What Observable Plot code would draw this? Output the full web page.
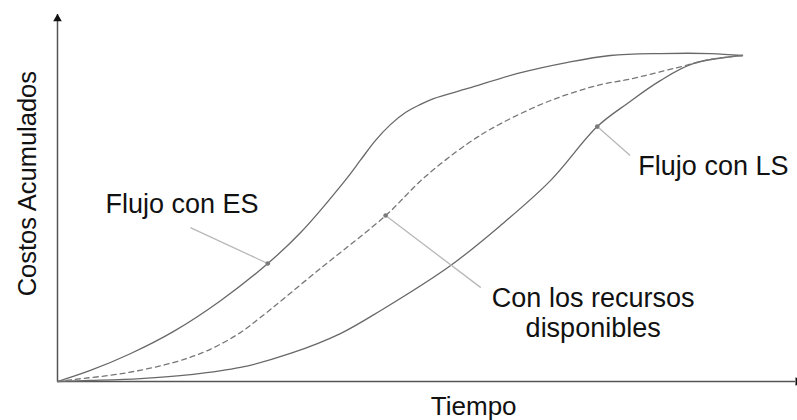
<!DOCTYPE html>
<html>
<head>
<meta charset="utf-8">
<script src="https://cdn.jsdelivr.net/npm/d3@7"></script>
<script src="https://cdn.jsdelivr.net/npm/@observablehq/plot@0.6"></script>
<style>
  html, body { margin: 0; padding: 0; background: #fff; overflow: hidden; }
  #chart svg { display: block; }
</style>
</head>
<body>
<div id="chart"></div>
<script>
// ---- Data (Tiempo 0..100, Costos acumulados 0..100) ----
const tiempoES = [0, 4.8, 10.7, 16.9, 23.8, 30.7, 35.5, 42.0, 44.2, 46.4, 48.6, 50.8, 53.0, 54.9, 59.9, 67.2, 74.5, 80.7, 88.0, 95.3, 100];
const costoES  = [0, 3.4,  8.6, 15.3, 24.8, 36.2, 45.7, 61.7, 67.8, 73.9, 78.8, 82.5, 85.0, 86.8, 89.9, 94.5, 97.9, 100, 100.6, 100.6, 100];

const tiempoRD = [0, 2.3, 9.6, 16.9, 21.9, 26.7, 29.6, 38.4, 47.9, 53.4, 59.9, 64.7, 72.0, 79.3, 83.2, 90.5, 95.3, 100];
const costoRD  = [0, 0.6, 2.5,  5.8,  9.5, 15.0, 19.6, 34.7, 50.9, 62.3, 73.0, 79.1, 86.2, 91.1, 92.6, 96.3, 98.8, 100];

const tiempoLS = [0, 4.8, 12.1, 19.4, 26.7, 34.0, 41.3, 47.2, 57.4, 64.7, 72.0, 78.8, 83.2, 88.0, 92.8, 100];
const costoLS  = [0, 0.3,  0.9,  2.1,  4.3,  8.6, 14.7, 21.8, 35.6, 47.9, 61.7, 78.2, 85.3, 92.3, 97.5, 100];

const labelES = "Flujo con ES";
const labelLS = "Flujo con LS";
const labelRD = "Con los recursos\ndisponibles";
const xTitle = "Tiempo";
const yTitle = "Costos Acumulados";

// index of the annotated point on each curve
const markIdx = {ES: 5, RD: 8, LS: 11};

// ---- Build tables ----
const toRows = (name, ts, cs) => ts.map((t, i) => ({serie: name, t, c: cs[i]}));
const rowsES = toRows("ES", tiempoES, costoES);
const rowsRD = toRows("RD", tiempoRD, costoRD);
const rowsLS = toRows("LS", tiempoLS, costoLS);

// leader lines: from the marked point on the curve to the label
const leaders = [
  {x1: tiempoES[markIdx.ES], y1: costoES[markIdx.ES], x2: 19.4, y2: 47.2},
  {x1: tiempoRD[markIdx.RD], y1: costoRD[markIdx.RD], x2: 61.8, y2: 28.8},
  {x1: tiempoLS[markIdx.LS], y1: costoLS[markIdx.LS], x2: 83.6, y2: 69.3}
];

const FONT = "'Liberation Sans', Arial, Helvetica, sans-serif";
const curveStroke = "#686868";

const chart = Plot.plot({
  width: 797,
  height: 420,
  marginLeft: 57,
  marginRight: 2,
  marginTop: 14,
  marginBottom: 39,
  x: {domain: [0, 107.74], axis: null},
  y: {domain: [0, 112.58], axis: null},
  style: {fontFamily: FONT, background: "#fff", overflow: "hidden"},
  marks: [
    // axes
    Plot.ruleY([0], {stroke: "#555", strokeWidth: 1.5}),
    Plot.ruleX([0], {stroke: "#555", strokeWidth: 1.5}),
    Plot.dot([{x: 0, y: 111.3}], {x: "x", y: "y", symbol: "triangle", r: 3.2, fill: "#111"}),
    Plot.dot([{x: 108.1, y: 0}], {x: "x", y: "y", symbol: "triangle", r: 3.2, fill: "#111", rotate: 90}),
    // curves
    Plot.line(rowsES, {x: "t", y: "c", curve: "catmull-rom", stroke: curveStroke, strokeWidth: 1.3}),
    Plot.line(rowsLS, {x: "t", y: "c", curve: "catmull-rom", stroke: curveStroke, strokeWidth: 1.3}),
    Plot.line(rowsRD, {x: "t", y: "c", curve: "catmull-rom", stroke: "#777", strokeWidth: 1.3, strokeDasharray: "5,4"}),
    // leaders
    Plot.link(leaders, {x1: "x1", y1: "y1", x2: "x2", y2: "y2", stroke: "#b8b8b8", strokeWidth: 1.3}),
    Plot.dot(leaders, {x: "x1", y: "y1", r: 2.3, fill: "#7a7a7a"}),
    // annotation labels
    Plot.text([labelES], {x: 7.0, y: 51.8, text: d => d, textAnchor: "start", lineAnchor: "bottom", fontSize: 27, fill: "#111"}),
    Plot.text([labelLS], {x: 84.8, y: 63.2, text: d => d, textAnchor: "start", lineAnchor: "bottom", fontSize: 27, fill: "#111"}),
    Plot.text([labelRD], {x: 78.2, y: 13.5, text: d => d, textAnchor: "middle", lineAnchor: "bottom", lineHeight: 1.12, fontSize: 27, fill: "#111"}),
    // axis titles
    Plot.text([xTitle], {x: 54.5, y: -10.4, text: d => d, textAnchor: "start", lineAnchor: "bottom", fontSize: 26, fill: "#111"}),
    Plot.text([yTitle], {x: -3.2, y: 60.7, text: d => d, textAnchor: "middle", lineAnchor: "bottom", rotate: -90, fontSize: 25.5, fill: "#111"})
  ]
});

document.getElementById("chart").appendChild(chart);
</script>
</body>
</html>
